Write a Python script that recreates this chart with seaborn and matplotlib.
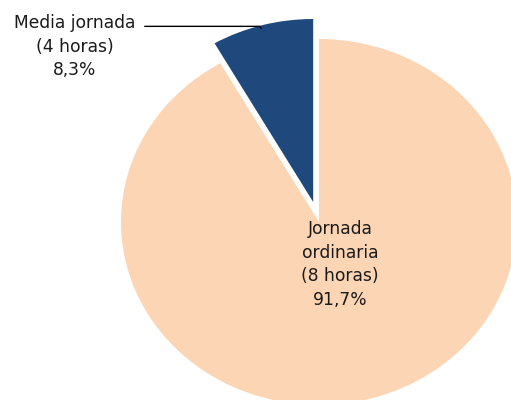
import matplotlib
matplotlib.use("Agg")
import matplotlib.pyplot as plt
import seaborn as sns

# Data
labels = ["Media jornada\n(4 horas)", "Jornada\nordinaria\n(8 horas)"]
shares = [8.3, 91.7]
pct_text = ["8,3%", "91,7%"]
colors = ["#1F497D", "#FCD5B4"]

sns.set_theme(style="white")
plt.rcParams['font.family'] = ['DejaVu Sans']

fig = plt.figure(figsize=(5.11, 4.0), dpi=100)
ax = fig.add_axes([0, 0, 1, 1])

ax.pie(shares, colors=colors, startangle=90, counterclock=True,
       explode=[0.113, 0], radius=1.0,
       wedgeprops=dict(linewidth=0))

# pie is a bit wider than tall, as in the reference
ax.set_aspect('auto')
ax.set_xlim(-1.611, 0.970)
ax.set_ylim(-0.973, 1.213)
ax.axis('off')

# labels
ax.text(-1.235, 0.957, labels[0] + "\n" + pct_text[0], ha='center', va='center',
        fontsize=12.3, linespacing=1.4, color='#1a1a1a')
ax.plot([-0.88, -0.30, -0.29], [1.069, 1.069, 1.058], color='black', lw=1)

ax.text(0.106, -0.233, labels[1] + "\n" + pct_text[1], ha='center', va='center',
        fontsize=12.3, linespacing=1.4, color='#1a1a1a')

fig.savefig("out.png", dpi=100)
